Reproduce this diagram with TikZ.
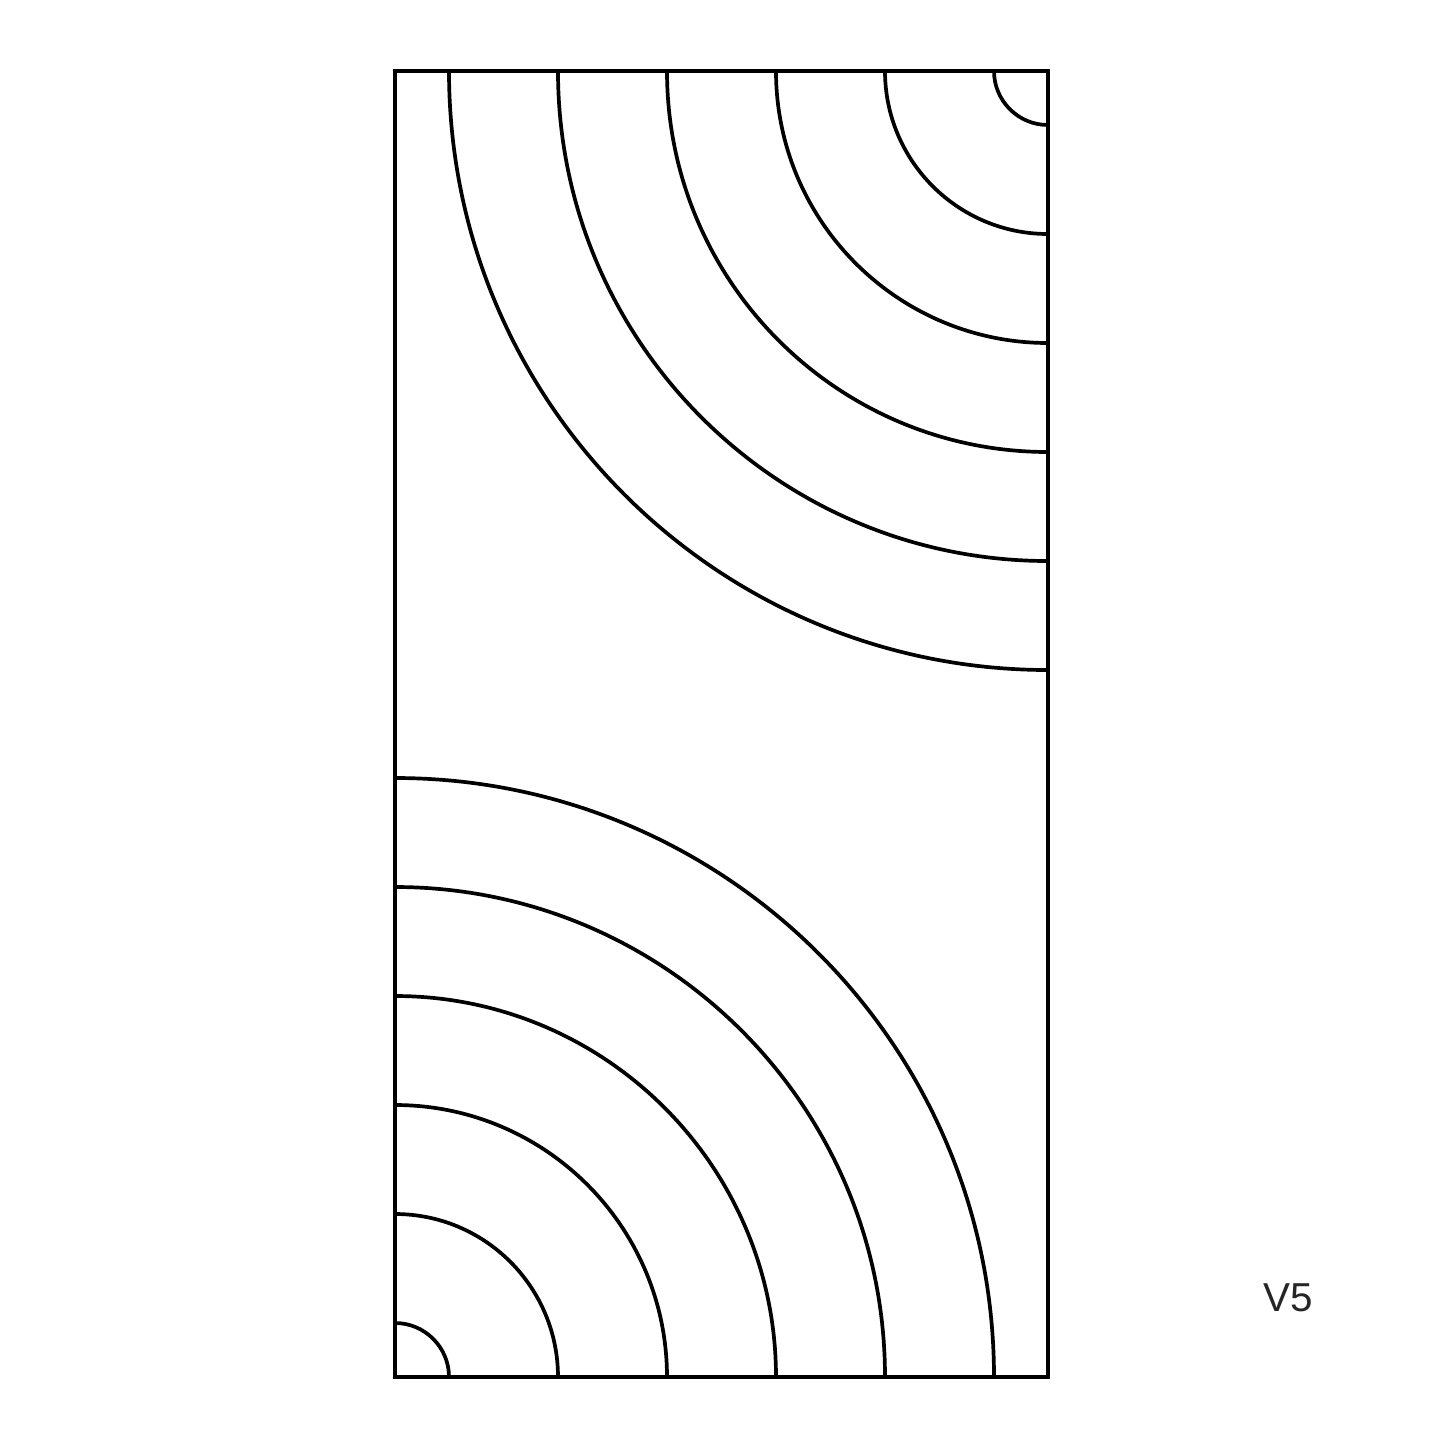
\documentclass[tikz,border=0pt]{standalone}
\usepackage{fontspec}
\setmainfont{Liberation Sans}
\usetikzlibrary{calc}
\begin{document}
\begin{tikzpicture}[x=0.02cm,y=-0.02cm,
  panel/.style={line width=0.076cm, line join=miter},
  ring/.style={line width=0.074cm}]
\useasboundingbox (0,0) rectangle (1445,1445);
\coordinate (TL) at (395,71);
\coordinate (BR) at (1048,1377);
\coordinate (TR) at (1048,71);
\coordinate (BL) at (395,1377);
\foreach \r in {54,163,272,381,490,599}{
  \draw[ring] ($(TR)+(-\r,0)$) arc[start angle=180,end angle=90,radius=\r];
  \draw[ring] ($(BL)+(0,-\r)$) arc[start angle=270,end angle=360,radius=\r];
}
\draw[panel] (TL) rectangle (BR);
\node[font=\fontsize{23}{26}\selectfont, text=black!85] (lbl) at (1288,1298) {V5};
\end{tikzpicture}
\end{document}
